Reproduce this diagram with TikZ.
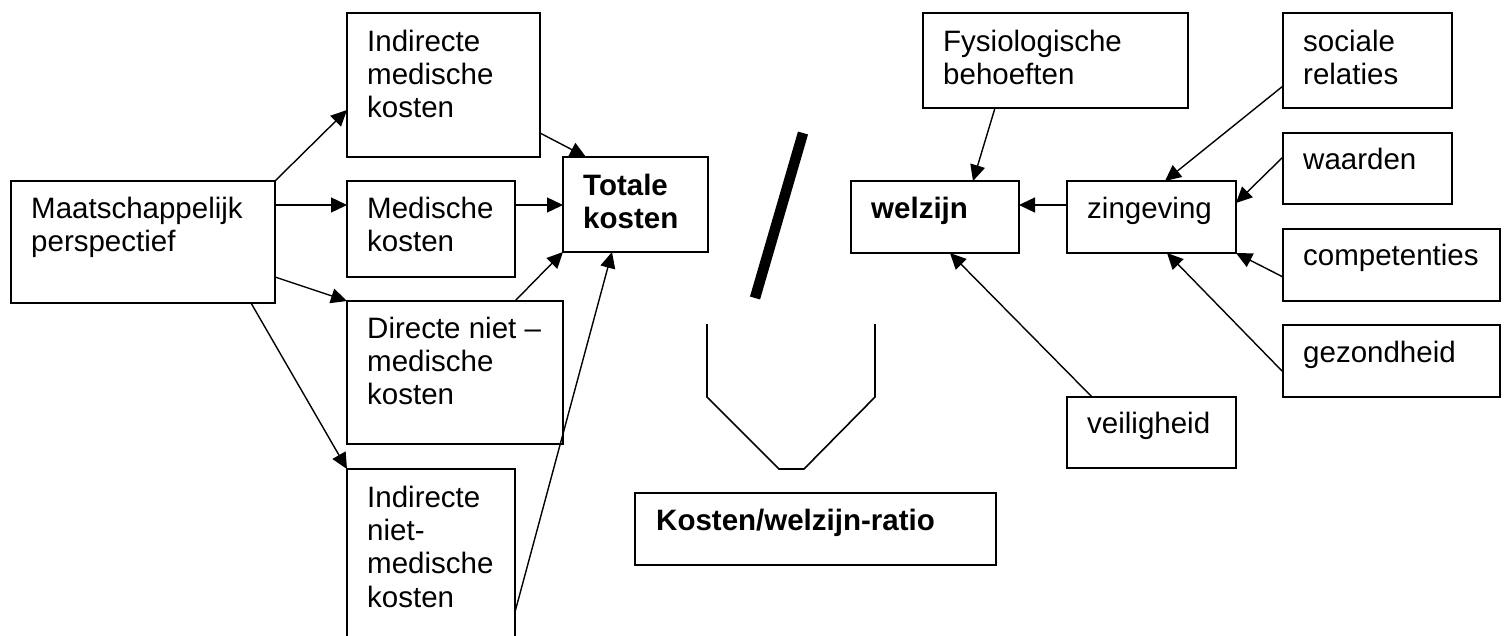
\documentclass[tikz,border=0pt]{standalone}
\usepackage{fontspec}
\setmainfont{Liberation Sans}
\usetikzlibrary{arrows.meta,calc}
\begin{document}
\begin{tikzpicture}[x=1pt,y=-1pt,
  box/.style={draw, line width=1.6pt, rectangle, anchor=north west, inner sep=0pt, outer sep=0pt},
  lbl/.style={anchor=base west, inner sep=0pt, font=\fontsize{29.5}{33.4}\selectfont},
  arr/.style={line width=1.4pt, -{Triangle[length=16pt,width=15pt]}},
  slashline/.style={line width=10.5pt},
  cupline/.style={line width=1.6pt}]
\useasboundingbox (0,0) rectangle (1508,635);
% boxes
\node[box, minimum width=264pt, minimum height=122pt] (maat) at (11,181) {};
\node[box, minimum width=193pt, minimum height=144pt] (imk) at (347,13) {};
\node[box, minimum width=168pt, minimum height=96pt] (mk) at (347,181) {};
\node[box, minimum width=216pt, minimum height=143pt] (dnmk) at (347,301) {};
\node[box, minimum width=168pt, minimum height=200pt] (inmk) at (347,469) {};
\node[box, minimum width=145pt, minimum height=95pt] (tk) at (563,157) {};
\node[box, minimum width=361pt, minimum height=72pt] (ratio) at (635,493) {};
\node[box, minimum width=265pt, minimum height=95pt] (fys) at (923,13) {};
\node[box, minimum width=168pt, minimum height=72pt] (welz) at (851,181) {};
\node[box, minimum width=169pt, minimum height=72pt] (zing) at (1067,181) {};
\node[box, minimum width=169pt, minimum height=95pt] (soc) at (1283,13) {};
\node[box, minimum width=169pt, minimum height=71pt] (waa) at (1283,133) {};
\node[box, minimum width=217pt, minimum height=72pt] (comp) at (1283,229) {};
\node[box, minimum width=217pt, minimum height=72pt] (gez) at (1283,325) {};
\node[box, minimum width=169pt, minimum height=71pt] (veil) at (1067,397) {};
% texts
\node[lbl] (tmaat) at ($(maat.north west)+(20,37)$) {\parbox[t]{240pt}{Maatschappelijk\\perspectief}};
\node[lbl] (timk) at ($(imk.north west)+(20,38)$) {\parbox[t]{170pt}{Indirecte\\medische\\kosten}};
\node[lbl] (tmk) at ($(mk.north west)+(20,37)$) {\parbox[t]{150pt}{Medische\\kosten}};
\node[lbl] (tdnmk) at ($(dnmk.north west)+(20,37)$) {\parbox[t]{200pt}{Directe niet –\\medische\\kosten}};
\node[lbl] (tinmk) at ($(inmk.north west)+(20,38)$) {\parbox[t]{150pt}{Indirecte\\niet-\\medische\\kosten}};
\node[lbl] (ttk) at ($(tk.north west)+(20,38)$) {\parbox[t]{130pt}{\bfseries Totale\\kosten}};
\node[lbl] (tratio) at ($(ratio.north west)+(21,37)$) {\textbf{Kosten/welzijn-ratio}};
\node[lbl] (tfys) at ($(fys.north west)+(20,38)$) {\parbox[t]{240pt}{Fysiologische\\behoeften}};
\node[lbl] (twelz) at ($(welz.north west)+(20,37)$) {\textbf{welzijn}};
\node[lbl] (tzing) at ($(zing.north west)+(20,37)$) {zingeving};
\node[lbl] (tsoc) at ($(soc.north west)+(20,38)$) {\parbox[t]{150pt}{sociale\\relaties}};
\node[lbl] (twaa) at ($(waa.north west)+(20,36)$) {waarden};
\node[lbl] (tcomp) at ($(comp.north west)+(20,36)$) {competenties};
\node[lbl] (tgez) at ($(gez.north west)+(20,37)$) {gezondheid};
\node[lbl] (tveil) at ($(veil.north west)+(20,36)$) {veiligheid};
% connectors, left part
\draw[arr] (maat.north east) -- ($(imk.north west)+(0,97)$);
\draw[arr] ($(maat.north east)+(0,24)$) -- ($(mk.north west)+(0,24)$);
\draw[arr] ($(maat.north east)+(0,96)$) -- (dnmk.north west);
\draw[arr] ($(maat.south west)+(240,0)$) -- (inmk.north west);
\draw[arr] ($(imk.north east)+(0,120)$) -- ($(tk.north west)+(23,0)$);
\draw[arr] ($(mk.north east)+(0,24)$) -- ($(tk.north west)+(0,48)$);
\draw[arr] ($(dnmk.north west)+(168,0)$) -- (tk.south west);
\draw[arr] ($(inmk.north east)+(0,143)$) -- ($(tk.south west)+(49,0)$);
% connectors, right part
\draw[arr] ($(fys.south west)+(72,0)$) -- ($(welz.north west)+(122,0)$);
\draw[arr] ($(zing.north west)+(0,24)$) -- ($(welz.north east)+(0,24)$);
\draw[arr] ($(veil.north west)+(25,0)$) -- ($(welz.south west)+(99,0)$);
\draw[arr] ($(soc.north west)+(0,73)$) -- ($(zing.north west)+(98,0)$);
\draw[arr] ($(waa.north west)+(0,24)$) -- ($(zing.north east)+(0,22)$);
\draw[arr] ($(comp.north west)+(0,48)$) -- (zing.south east);
\draw[arr] ($(gez.north west)+(0,47)$) -- ($(zing.south west)+(100,0)$);
% division slash and cup
\draw[slashline] (803,133) -- (755,298);
\draw[cupline] (707,324) -- (707,397) -- (779,469) -- (804,469) -- (875,397) -- (875,324);
\end{tikzpicture}
\end{document}
